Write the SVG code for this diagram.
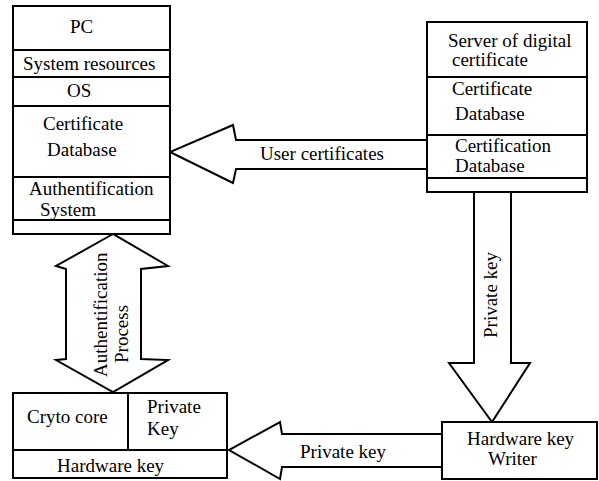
<svg xmlns="http://www.w3.org/2000/svg" width="599" height="481" viewBox="0 0 599 481">
<style>
.b{fill:#fff;stroke:#000;stroke-width:2}
.l{stroke:#000;stroke-width:2;fill:none}
.t{font-family:"Liberation Serif","Times New Roman",serif;font-size:19px;fill:#000}
</style>
<rect width="599" height="481" fill="#fff"/>
<g id="connectors">
<polygon class="b" points="427,140 236,140 233,125 170,152 233,183 236,169 427,169"/>
<text class="t" x="260" y="160">User certificates</text>
<polygon class="b" points="474,192 474,363 449,363 492,422 530,363 511,363 511,192"/>
<text class="t" transform="translate(497,338) rotate(-90)">Private key</text>
<polygon class="b" points="442,434 282,434 280,422 229,450 280,479 282,467 442,467"/>
<text class="t" x="300" y="458">Private key</text>
<polygon class="b" points="113,234 56,266 66,269 66,359 56,360 113,392 168,360 141,359 141,269 168,266"/>
<text class="t" transform="translate(107,377) rotate(-90)">Authentification</text>
<text class="t" transform="translate(128,363) rotate(-90)">Process</text>
</g>
<g id="pc">
<rect class="b" x="13" y="6" width="157" height="228"/>
<path class="l" d="M13,50H170M13,77H170M13,106H170M13,177H170M13,220H170"/>
<text class="t" x="70" y="33">PC</text>
<text class="t" x="23" y="70">System resources</text>
<text class="t" x="67" y="97">OS</text>
<text class="t" x="43" y="130">Certificate</text>
<text class="t" x="47" y="156">Database</text>
<text class="t" x="29" y="195">Authentification</text>
<text class="t" x="40" y="216">System</text>
</g>
<g id="server">
<rect class="b" x="427" y="22" width="160" height="170"/>
<path class="l" d="M427,77H587M427,135H587M427,178H587"/>
<text class="t" x="448" y="47">Server of digital</text>
<text class="t" x="452" y="66">certificate</text>
<text class="t" x="452" y="95">Certificate</text>
<text class="t" x="455" y="120">Database</text>
<text class="t" x="455" y="152">Certification</text>
<text class="t" x="455" y="172">Database</text>
</g>
<g id="hardware-key">
<rect class="b" x="13" y="393" width="214" height="85"/>
<path class="l" d="M128,393V450M13,450H227"/>
<text class="t" x="27" y="423">Cryto core</text>
<text class="t" x="147" y="413">Private</text>
<text class="t" x="147" y="435">Key</text>
<text class="t" x="57" y="472">Hardware key</text>
</g>
<g id="writer">
<rect class="b" x="442" y="422" width="155" height="57"/>
<text class="t" x="467" y="445">Hardware key</text>
<text class="t" x="488" y="465">Writer</text>
</g>
</svg>
